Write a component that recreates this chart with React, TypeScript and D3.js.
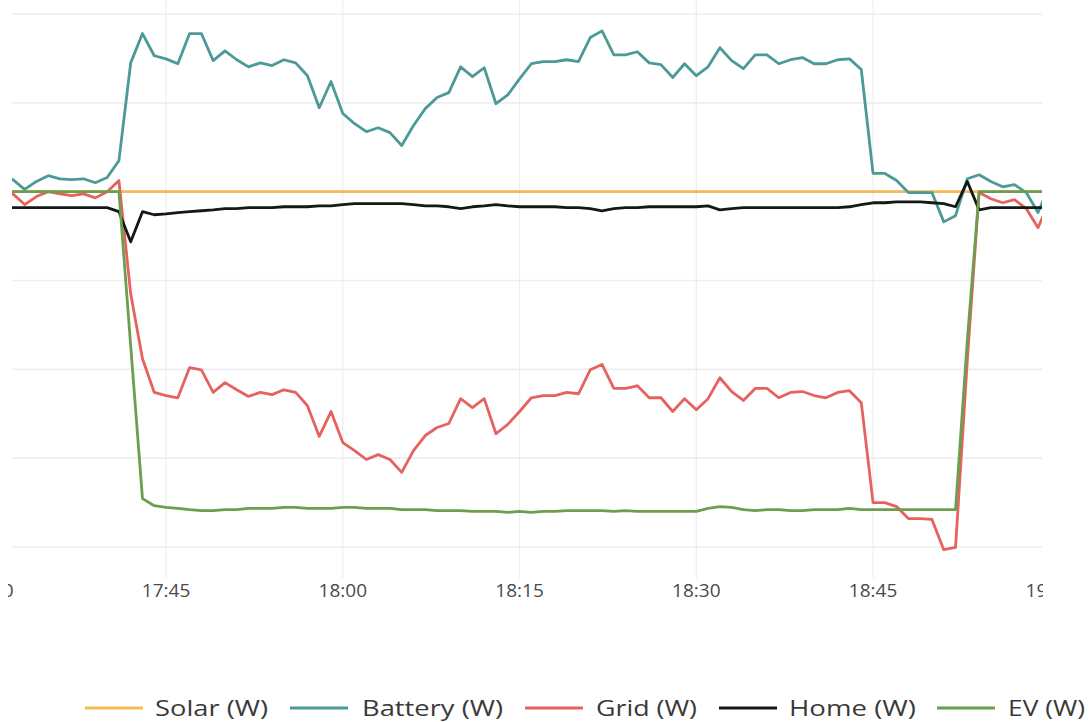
import * as d3 from 'd3';
import React, { useRef, useEffect } from 'react';

const dimensions = {
  width: 1092,
  height: 722,
  plot: { left: 12, right: 1042, top: 0, bottom: 578 }
};

// one sample per minute, first sample at 17:31
const startTime = new Date(2024, 0, 1, 17, 31);
const tickLabels = ['17:30', '17:45', '18:00', '18:15', '18:30', '18:45', '19:00'];
const yGrid = [-8000, -6000, -4000, -2000, 0, 2000, 4000];

const seriesNames = ['Solar (W)', 'Battery (W)', 'Grid (W)', 'Home (W)', 'EV (W)'];
const seriesColors = ['#f6b955', '#4b9a98', '#e5625f', '#111a17', '#6d9e4f'];

const solar = [
  0, 0, 0, 0, 0, 0, 0, 0, 0, 0,
  0, 0, 0, 0, 0, 0, 0, 0, 0, 0,
  0, 0, 0, 0, 0, 0, 0, 0, 0, 0,
  0, 0, 0, 0, 0, 0, 0, 0, 0, 0,
  0, 0, 0, 0, 0, 0, 0, 0, 0, 0,
  0, 0, 0, 0, 0, 0, 0, 0, 0, 0,
  0, 0, 0, 0, 0, 0, 0, 0, 0, 0,
  0, 0, 0, 0, 0, 0, 0, 0, 0, 0,
  0, 0, 0, 0, 0, 0, 0, 0, 0, 0
];

const battery = [
  360, 270, 50, 230, 360, 290, 270, 290, 200, 320,
  700, 2900, 3560, 3060, 2990, 2880, 3560, 3560, 2950, 3170,
  2970, 2810, 2900, 2840, 2970, 2900, 2610, 1890, 2480, 1760,
  1530, 1350, 1440, 1330, 1040, 1490, 1870, 2120, 2230, 2810,
  2590, 2790, 1980, 2180, 2540, 2880, 2930, 2930, 2970, 2930,
  3470, 3620, 3080, 3080, 3150, 2900, 2860, 2570, 2880, 2610,
  2810, 3240, 2950, 2770, 3080, 3080, 2880, 2970, 3020, 2880,
  2880, 2970, 2990, 2750, 410, 410, 250, -20, -20, -20,
  -680, -540, 290, 380, 230, 110, 160, -20, -470, 140
];

const grid = [
  20, -50, -290, -110, 0, -50, -90, -50, -140, 0,
  250, -2300, -3760, -4520, -4590, -4640, -3960, -4010, -4520, -4300,
  -4460, -4610, -4520, -4570, -4460, -4520, -4820, -5510, -4950, -5650,
  -5830, -6030, -5920, -6030, -6320, -5830, -5490, -5310, -5220, -4660,
  -4860, -4660, -5450, -5240, -4950, -4640, -4590, -4590, -4520, -4550,
  -4010, -3890, -4430, -4430, -4370, -4640, -4640, -4950, -4660, -4910,
  -4660, -4190, -4500, -4700, -4430, -4430, -4640, -4520, -4500, -4590,
  -4640, -4520, -4480, -4750, -7000, -7000, -7090, -7360, -7360, -7380,
  -8060, -8010, -3800, -20, -160, -250, -180, -380, -810, -200
];

const home = [
  -360, -360, -360, -360, -360, -360, -360, -360, -360, -360,
  -450, -1130, -450, -520, -500, -470, -450, -430, -410, -380,
  -380, -360, -360, -360, -340, -340, -340, -320, -320, -290,
  -270, -270, -270, -270, -270, -290, -320, -320, -340, -380,
  -340, -320, -290, -320, -340, -340, -340, -340, -360, -360,
  -380, -430, -380, -360, -360, -340, -340, -340, -340, -340,
  -320, -410, -380, -360, -360, -360, -360, -360, -360, -360,
  -360, -360, -340, -290, -250, -250, -230, -230, -230, -250,
  -270, -340, 230, -410, -360, -360, -360, -360, -360, -360
];

const ev = [
  0, 0, 0, 0, 0, 0, 0, 0, 0, 0,
  0, -3470, -6910, -7070, -7110, -7130, -7160, -7180, -7180, -7160,
  -7160, -7130, -7130, -7130, -7110, -7110, -7130, -7130, -7130, -7110,
  -7110, -7130, -7130, -7130, -7160, -7160, -7160, -7180, -7180, -7180,
  -7200, -7200, -7200, -7220, -7200, -7220, -7200, -7200, -7180, -7180,
  -7180, -7180, -7200, -7180, -7200, -7200, -7200, -7200, -7200, -7200,
  -7130, -7090, -7110, -7160, -7180, -7160, -7160, -7180, -7180, -7160,
  -7160, -7160, -7130, -7160, -7160, -7160, -7160, -7160, -7160, -7160,
  -7160, -7160, -3350, 0, 0, 0, 0, 0, 0, 0
];

// legend layout: [line start, text start, text width]
const legendX = [[85, 155, 113], [290, 362, 141], [525, 596, 101], [719, 789, 127], [937, 1008, 77]];

const App = () => {
  const { width, height, plot } = dimensions;
  const svgRef = useRef<SVGSVGElement>(null);

  useEffect(() => {
    const series = [solar, battery, grid, home, ev];
    const times = battery.map((_, i) => d3.timeMinute.offset(startTime, i));
    const ticks = tickLabels.map(s => {
      const [h, m] = s.split(':').map(Number);
      return new Date(2024, 0, 1, h, m);
    });

    const xScale = d3.scaleTime()
      .domain([ticks[0], ticks[ticks.length - 1]])
      .range([-10.7, 1049.8]);
    const yScale = d3.scaleLinear()
      .domain([-8000, 4000])
      .range([547, 14]);

    const svg = d3.select(svgRef.current);
    svg.selectAll('*').remove();

    const defs = svg.append('defs');
    defs.append('clipPath').attr('id', 'plot-clip')
      .append('rect')
      .attr('x', plot.left).attr('y', plot.top)
      .attr('width', plot.right - plot.left).attr('height', plot.bottom - plot.top);
    defs.append('clipPath').attr('id', 'label-clip')
      .append('rect')
      .attr('x', 8).attr('y', 560)
      .attr('width', 1035).attr('height', 60);

    // gridlines
    const gridG = svg.append('g').attr('clip-path', 'url(#plot-clip)');
    gridG.selectAll('line.v')
      .data(ticks)
      .join('line')
      .attr('x1', d => xScale(d)).attr('x2', d => xScale(d))
      .attr('y1', plot.top).attr('y2', plot.bottom)
      .style('stroke', '#eeeeee')
      .style('stroke-width', 1.2);
    gridG.selectAll('line.h')
      .data(yGrid)
      .join('line')
      .attr('x1', plot.left).attr('x2', plot.right)
      .attr('y1', d => yScale(d)).attr('y2', d => yScale(d))
      .style('stroke', '#eeeeee')
      .style('stroke-width', 1.6);

    // x axis labels (the outer two are cut by the frame, as in the screenshot)
    svg.append('g')
      .attr('clip-path', 'url(#label-clip)')
      .selectAll('text')
      .data(ticks)
      .join('text')
      .attr('x', d => xScale(d))
      .attr('y', 597)
      .attr('text-anchor', 'middle')
      .style('font-family', '"Open Sans", sans-serif')
      .style('font-size', '19px')
      .style('fill', '#4a4a4a')
      .text((_, i) => tickLabels[i]);

    // series
    const line = d3.line<number>()
      .x((_, i) => xScale(times[i]))
      .y(d => yScale(d));
    const linesG = svg.append('g').attr('clip-path', 'url(#plot-clip)');
    series.forEach((values, k) => {
      linesG.append('path')
        .attr('d', line(values))
        .attr('fill', 'none')
        .attr('stroke', seriesColors[k])
        .attr('stroke-width', 2.8)
        .attr('stroke-linejoin', 'round');
    });

    // legend
    const legend = svg.append('g');
    seriesNames.forEach((name, k) => {
      const [lx, tx, tw] = legendX[k];
      legend.append('line')
        .attr('x1', lx).attr('x2', lx + 58)
        .attr('y1', 708).attr('y2', 708)
        .style('stroke', seriesColors[k])
        .style('stroke-width', 3.2);
      legend.append('text')
        .attr('x', tx)
        .attr('y', 716)
        .attr('textLength', tw)
        .attr('lengthAdjust', 'spacingAndGlyphs')
        .style('font-family', '"Open Sans", sans-serif')
        .style('font-size', '22px')
        .style('fill', '#3a3a3a')
        .text(name);
    });
  }, []);

  return (
    <svg
      ref={svgRef}
      width={width}
      height={height}
      style={{ position: 'absolute', left: 0, top: 0, background: '#fff' }}
    />
  );
};

export default App;
